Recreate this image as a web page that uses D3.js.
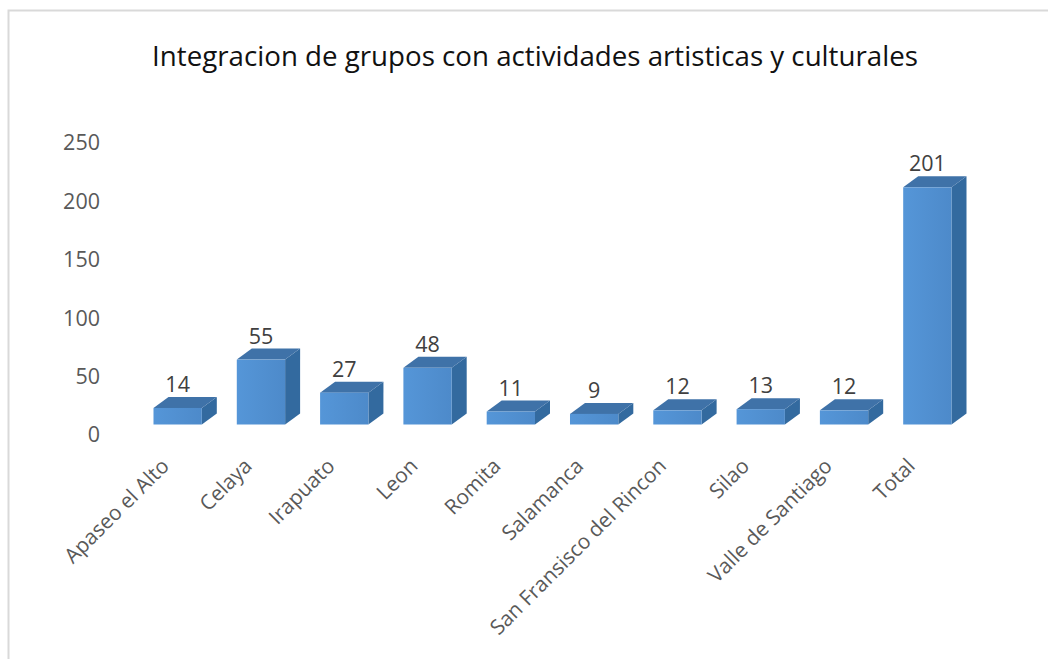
<!DOCTYPE html>
<html><head><meta charset="utf-8">
<script src="https://cdnjs.cloudflare.com/ajax/libs/d3/7.8.5/d3.min.js"></script>
<style>html,body{margin:0;padding:0;background:#fff}svg{display:block}text{font-family:"Open Sans",sans-serif}</style>
</head><body><svg id="c" width="1048" height="659"></svg>
<script>
const categories = ["Apaseo el Alto","Celaya","Irapuato","Leon","Romita","Salamanca","San Fransisco del Rincon","Silao","Valle de Santiago","Total"];
const values = [14,55,27,48,11,9,12,13,12,201];
const tickValues = [0,50,100,150,200,250];
const titleText = "Integracion de grupos con actividades artisticas y culturales";

const svg = d3.select("#c");
// chart frame: top and left edges only are visible
svg.append("path").attr("d","M8.5,659V10.5H1048").attr("fill","none").attr("stroke","#d9d9d9").attr("stroke-width",2);

const defs = svg.append("defs");
const g = defs.append("linearGradient").attr("id","front").attr("x1",0).attr("x2",1).attr("y1",0).attr("y2",0);
g.append("stop").attr("offset","0").attr("stop-color","#5596d8");
g.append("stop").attr("offset","1").attr("stop-color","#4d8aca");

svg.append("text").attr("x",535).attr("y",66).attr("text-anchor","middle")
  .attr("font-size",27.7).attr("fill","#111").text(titleText);

const x = d3.scaleBand().domain(categories).range([136,969]).paddingInner(0.42).paddingOuter(0.21);
const xLabel = d3.scalePoint().domain(categories).range([160,906]);
const yAxisScale = d3.scaleLinear().domain([0,250]).range([435,143]);
const yBar = d3.scaleLinear().domain([0,250]).range([424.5,129.5]);
const dx = 15, dy = 11;

const axis = d3.axisLeft(yAxisScale).tickValues(tickValues).tickSize(0).tickPadding(0);
const ag = svg.append("g").attr("transform","translate(100,0)").call(axis);
ag.select(".domain").remove();
ag.selectAll("text").attr("font-size",21.5).attr("fill","#595959").attr("font-family",'"Open Sans",sans-serif');

const bars = svg.append("g").selectAll("g").data(categories).join("g");
bars.each(function(c,i){
  const s = d3.select(this), x0 = x(c), w = x.bandwidth(), y0 = yBar(0), y1 = yBar(values[i]);
  s.append("path").attr("fill","#336a9f")
    .attr("d",`M${x0+w},${y1}L${x0+w+dx},${y1-dy}V${y0-dy}L${x0+w},${y0}Z`);
  s.append("path").attr("fill","#3f72a8")
    .attr("d",`M${x0},${y1}L${x0+dx},${y1-dy}H${x0+w+dx}L${x0+w},${y1}Z`);
  s.append("rect").attr("x",x0).attr("y",y1).attr("width",w).attr("height",y0-y1).attr("fill","url(#front)");
  s.append("text").attr("x",x0+w/2).attr("y",y1-dy-5).attr("text-anchor","middle")
    .attr("font-size",21.5).attr("fill","#404040").text(values[i]);
});

const xl = svg.append("g").selectAll("text").data(categories).join("text")
  .attr("text-anchor","end").attr("font-size",20.8).attr("fill","#595959")
  .attr("transform",c=>`translate(${xLabel(c)},457) rotate(-45)`)
  .attr("dy","0.7em").text(c=>c);
</script></body></html>
